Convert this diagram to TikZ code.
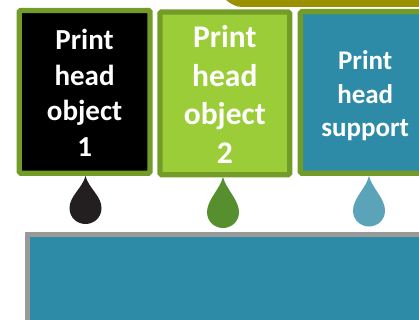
\documentclass[tikz,border=0pt]{standalone}
\usepackage{fontspec}
\setmainfont{Carlito}
\usepackage{xcolor}
\usetikzlibrary{positioning}
\definecolor{headgreen}{HTML}{9ACD37}
\definecolor{headedge}{HTML}{739B27}
\definecolor{headblue}{HTML}{2E8BA8}
\definecolor{bedgray}{HTML}{999999}
\definecolor{topolive}{HTML}{9A9000}
\definecolor{dropblack}{HTML}{231F20}
\definecolor{dropgreen}{HTML}{578F2F}
\definecolor{dropblue}{HTML}{5BA3B9}

\begin{document}
\begin{tikzpicture}[
  x=1pt, y=-1pt,
  headbox/.style={rectangle, draw=headedge, line width=5.3pt, rounded corners=1.5pt,
    inner sep=0pt, outer sep=0pt},
  headtext/.style={text=white, align=center, inner sep=0pt},
  pics/inkdrop/.style 2 args={code={
    \fill[#1] (0,0) .. controls (3,12) and (16,#2-28) .. (16,#2-16)
      .. controls (16,#2-6) and (8,#2) .. (0,#2)
      .. controls (-8,#2) and (-16,#2-6) .. (-16,#2-16)
      .. controls (-16,#2-28) and (-3,12) .. (0,0) -- cycle;
  }},
]
  \clip (0,0) rectangle (419,320);
  % top part
  \fill[topolive] (226,0) .. controls (231,4) and (236,7) .. (242,7) -- (419,7) -- (419,0) -- cycle;
  % print heads
  \node[headbox, fill=black, minimum width=130.8pt, minimum height=162.7pt] (head1) at (84.6,91.8) {};
  \node[headbox, fill=headgreen, minimum width=129.7pt, minimum height=162.7pt] (head2) at (224.8,93.3) {};
  \node[headbox, fill=headblue, minimum width=129.7pt, minimum height=161.5pt] (head3) at (365.2,92.4) {};
  \node[headtext, font=\fontsize{29}{35.7}\selectfont\bfseries] (label1) at ([yshift=-1pt]head1.center)
    {Print\\head\\object\\1};
  \node[headtext, font=\fontsize{31.5}{38.5}\selectfont\bfseries] (label2) at ([yshift=-1pt]head2.center)
    {Print\\head\\object\\2};
  \node[headtext, font=\fontsize{27}{33.5}\selectfont\bfseries] (label3) at ([yshift=-3.5pt]head3.center)
    {Print\\head\\support};
  % ink drops
  \pic at (85.5,176) {inkdrop={dropblack}{48}};
  \pic at (223,177) {inkdrop={dropgreen}{51}};
  \pic at (369,176) {inkdrop={dropblue}{50.5}};
  % build plate
  \node[rectangle, draw=bedgray, fill=headblue, line width=5.3pt, outer sep=0pt, minimum width=450pt,
    minimum height=120pt, anchor=north west] (plate) at (27.7,234.7) {};
\end{tikzpicture}
\end{document}
